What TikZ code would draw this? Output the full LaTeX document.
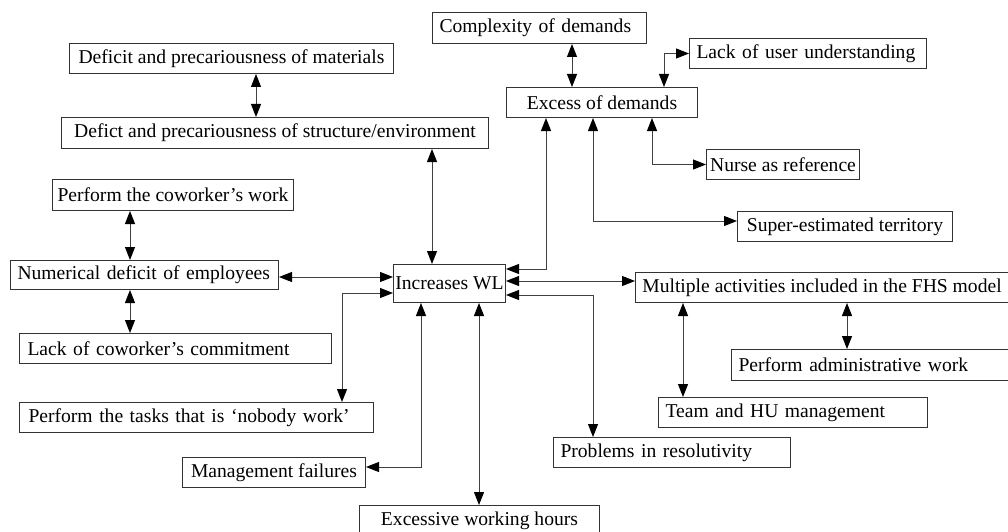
\documentclass[tikz,border=0pt]{standalone}
\usepackage{fontspec}
\setmainfont{Liberation Serif}
\usepackage{tikz}
\usetikzlibrary{arrows.meta}
\tikzstyle{box} = [draw=black!80, line width=1pt, anchor=north west, inner sep=0pt, minimum height=30pt]
\tikzstyle{lbox} = [box, inner xsep=7pt, align=left]
\tikzstyle{link} = [<->, >={Triangle[length=13pt,width=10pt,color=black]}, line width=1pt, draw=black!75]

\begin{document}
\begin{tikzpicture}[x=1pt, y=-1pt, font=\fontsize{19.6}{22}\selectfont]
   \useasboundingbox (0,0) rectangle (1008,532);

   % Boxes, top of the figure
   \node[lbox, text width=200pt, minimum height=31pt] (cmplx) at (432,12) {\mbox{Complexity of demands}};
   \node[lbox, text width=223pt] (lack) at (689,38) {\mbox{Lack of user understanding}};
   \node[box, minimum width=191pt] (excess) at (506,87) {Excess of demands};
   \node[box, minimum width=324pt] (mat) at (69,43) {Deficit and precariousness of materials};
   \node[box, minimum width=427pt, minimum height=31pt] (struct) at (61,117) {Defict and precariousness of structure/environment};
   \node[box, minimum width=153pt] (nurse) at (706,149) {Nurse as reference};
   \node[box, minimum width=241pt, minimum height=31pt] (cowork) at (52,179) {Perform the coworker's work};
   \node[box, minimum width=215pt] (super) at (737,211) {Super-estimated territory};

   % Middle row
   \node[lbox, text width=254pt, minimum height=29pt] (numer) at (10,260) {\mbox{Numerical deficit of employees}};
   \node[box, minimum width=112pt, minimum height=38pt] (wl) at (393,264) {Increases WL};
   \node[box, minimum width=373pt] (multi) at (635,272) {Multiple activities included in the FHS model};

   % Boxes, bottom of the figure
   \node[lbox, text width=296pt, inner xsep=8pt] (commit) at (19,333) {\mbox{Lack of coworker's commitment}};
   \node[lbox, text width=263pt, minimum height=31pt] (admin) at (731,349) {\mbox{Perform administrative work}};
   \node[lbox, text width=336pt, inner xsep=9pt] (tasks) at (19,402) {\mbox{Perform the tasks that is `nobody work'}};
   \node[lbox, text width=255pt] (team) at (658,397) {\mbox{Team and HU management}};
   \node[box, minimum width=183pt] (mgmt) at (182,457) {Management failures};
   \node[lbox, text width=223pt] (resol) at (553,437) {\mbox{Problems in resolutivity}};
   \node[box, minimum width=240pt, minimum height=31pt] (hours) at (359,505) {Excessive working hours};

   % Links above Increases WL
   \draw[link] (256,0 |- mat.south) -- (256,0 |- struct.north);
   \draw[link] (432,0 |- struct.south) -- (432,0 |- wl.north);
   \draw[link] (572,0 |- cmplx.south) -- (572,0 |- excess.north);
   \draw[link] (664,0 |- excess.north) |- (lack.west);
   \draw[link] (652,0 |- excess.south) |- (nurse.west);
   \draw[link] (593,0 |- excess.south) |- (super.west |- 0,221);
   \draw[link] (546,0 |- excess.south) |- (wl.east |- 0,269);

   % Links on the left
   \draw[link] (130,0 |- cowork.south) -- (130,0 |- numer.north);
   \draw[link] (130,0 |- numer.south) -- (130,0 |- commit.north);
   \draw[link] (numer.east |- 0,277) -- (wl.west |- 0,277);
   \draw[link] (wl.west |- 0,293) -| (342,0 |- tasks.north);

   % Links on the right and below
   \draw[link] (wl.east |- 0,281) -- (multi.west |- 0,281);
   \draw[link] (wl.east |- 0,295) -| (593,0 |- resol.north);
   \draw[link] (421,0 |- wl.south) |- (mgmt.east |- 0,467);
   \draw[link] (479,0 |- wl.south) -- (479,0 |- hours.north);
   \draw[link] (683,0 |- multi.south) -- (683,0 |- team.north);
   \draw[link] (847,0 |- multi.south) -- (847,0 |- admin.north);

\end{tikzpicture}
\end{document}
